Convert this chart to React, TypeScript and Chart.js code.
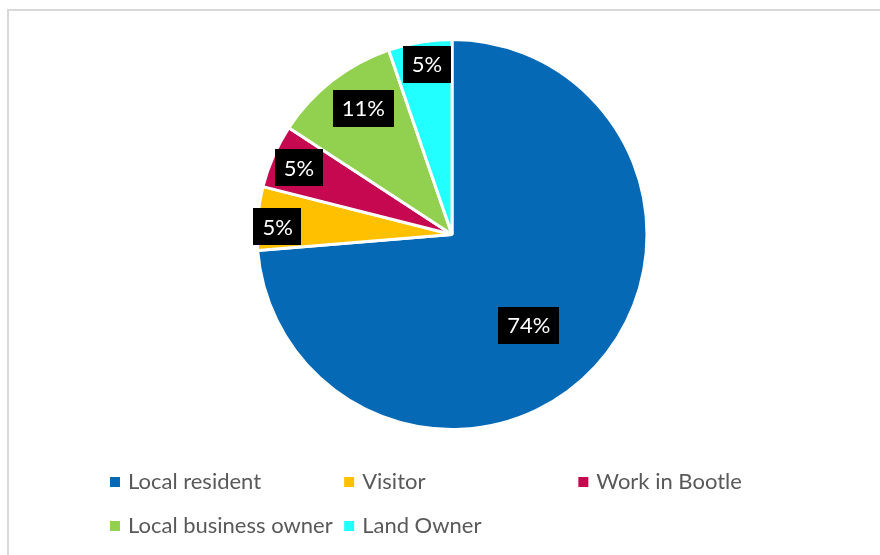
import React, { useEffect, useRef } from "react";
import { Chart, registerables } from "chart.js";

Chart.register(...registerables);

const categories = ["Local resident", "Visitor", "Work in Bootle", "Local business owner", "Land Owner"];
const counts = [14, 1, 1, 2, 1];
const colors = ["#0569B5", "#FFC000", "#C5084F", "#92D050", "#22FFFF"];

const total = counts.reduce((a, b) => a + b, 0);
const percentLabels = counts.map((v) => `${Math.round((v / total) * 100)}%`);

const FONT = "Lato, 'Open Sans', sans-serif";

const framePlugin = {
  id: "frame",
  beforeDraw(chart: any) {
    const ctx = chart.ctx;
    ctx.save();
    ctx.fillStyle = "#ffffff";
    ctx.fillRect(0, 0, chart.width, chart.height);
    ctx.strokeStyle = "#d9d9d9";
    ctx.lineWidth = 2;
    ctx.strokeRect(8, 10, chart.width + 40, chart.height + 40);
    ctx.restore();
  },
};

const boxLabelPlugin = {
  id: "boxLabels",
  afterDatasetsDraw(chart: any, _args: any, opts: any) {
    const ctx = chart.ctx;
    const meta = chart.getDatasetMeta(0);
    ctx.save();
    ctx.font = `${opts.size}px ${FONT}`;
    ctx.textAlign = "center";
    ctx.textBaseline = "middle";
    meta.data.forEach((arc: any, i: number) => {
      const { x, y, startAngle, endAngle, outerRadius } = arc.getProps(
        ["x", "y", "startAngle", "endAngle", "outerRadius"],
        true
      );
      const p = opts.placement[i];
      const a = (startAngle + endAngle) / 2 + (p.a * Math.PI) / 180;
      const cx = x + Math.cos(a) * outerRadius * p.r;
      const cy = y + Math.sin(a) * outerRadius * p.r;
      const text = percentLabels[i];
      const w = ctx.measureText(text).width + 2 * opts.padX;
      const h = opts.boxH;
      ctx.fillStyle = "#000000";
      ctx.fillRect(Math.round(cx - w / 2), Math.round(cy - h / 2), Math.round(w), h);
      ctx.fillStyle = "#ffffff";
      ctx.fillText(text, cx, cy + 1);
    });
    ctx.restore();
  },
};

const gridLegendPlugin = {
  id: "gridLegend",
  afterDraw(chart: any, _args: any, opts: any) {
    const ctx = chart.ctx;
    ctx.save();
    ctx.font = `${opts.size}px ${FONT}`;
    ctx.textBaseline = "middle";
    ctx.textAlign = "left";
    const labels: string[] = chart.data.labels;
    const bg: string[] = chart.data.datasets[0].backgroundColor;
    const widths = labels.map((l) => opts.box + opts.gap + ctx.measureText(l).width);
    const colW = Math.max(...widths) + opts.colGap;
    const cols = opts.cols;
    const gridW = colW * (cols - 1) + Math.max(...widths);
    const startX = opts.centerX - gridW / 2;
    labels.forEach((l, i) => {
      const col = i % cols;
      const row = Math.floor(i / cols);
      const x = startX + col * colW;
      const y = opts.rowY[row];
      ctx.fillStyle = bg[i];
      ctx.fillRect(x, y - opts.box / 2, opts.box, opts.box);
      ctx.fillStyle = "#595959";
      ctx.fillText(l, x + opts.box + opts.gap, y);
    });
    ctx.restore();
  },
};

export default function App() {
  const ref = useRef<HTMLCanvasElement | null>(null);

  useEffect(() => {
    if (!ref.current) return;
    const chart = new Chart(ref.current, {
      type: "pie",
      data: {
        labels: categories,
        datasets: [
          {
            data: counts,
            backgroundColor: colors,
            borderColor: "#ffffff",
            borderWidth: 3,
          },
        ],
      },
      options: {
        animation: false,
        responsive: false,
        radius: 195,
        layout: { padding: { top: 30, bottom: 116, left: 200, right: 176 } },
        plugins: {
          legend: { display: false },
          tooltip: { enabled: false },
          boxLabels: {
            size: 22,
            padX: 9,
            boxH: 37,
            placement: [
              { r: 0.61, a: 7.2 },
              { r: 0.895, a: -2.2 },
              { r: 0.856, a: -0.2 },
              { r: 0.792, a: 2.8 },
              { r: 0.883, a: 1.1 },
            ],
          },
          gridLegend: {
            size: 22,
            box: 10,
            gap: 8,
            colGap: 11.5,
            cols: 3,
            centerX: 455.5,
            rowY: [482, 526],
          },
        } as any,
      },
      plugins: [framePlugin, boxLabelPlugin, gridLegendPlugin],
    });
    return () => chart.destroy();
  }, []);

  return (
    <div style={{ position: "fixed", left: 0, top: 0, width: 880, height: 555, overflow: "hidden", background: "#fff" }}>
      <canvas ref={ref} width={880} height={555} style={{ display: "block", width: 880, height: 555 }} />
    </div>
  );
}
